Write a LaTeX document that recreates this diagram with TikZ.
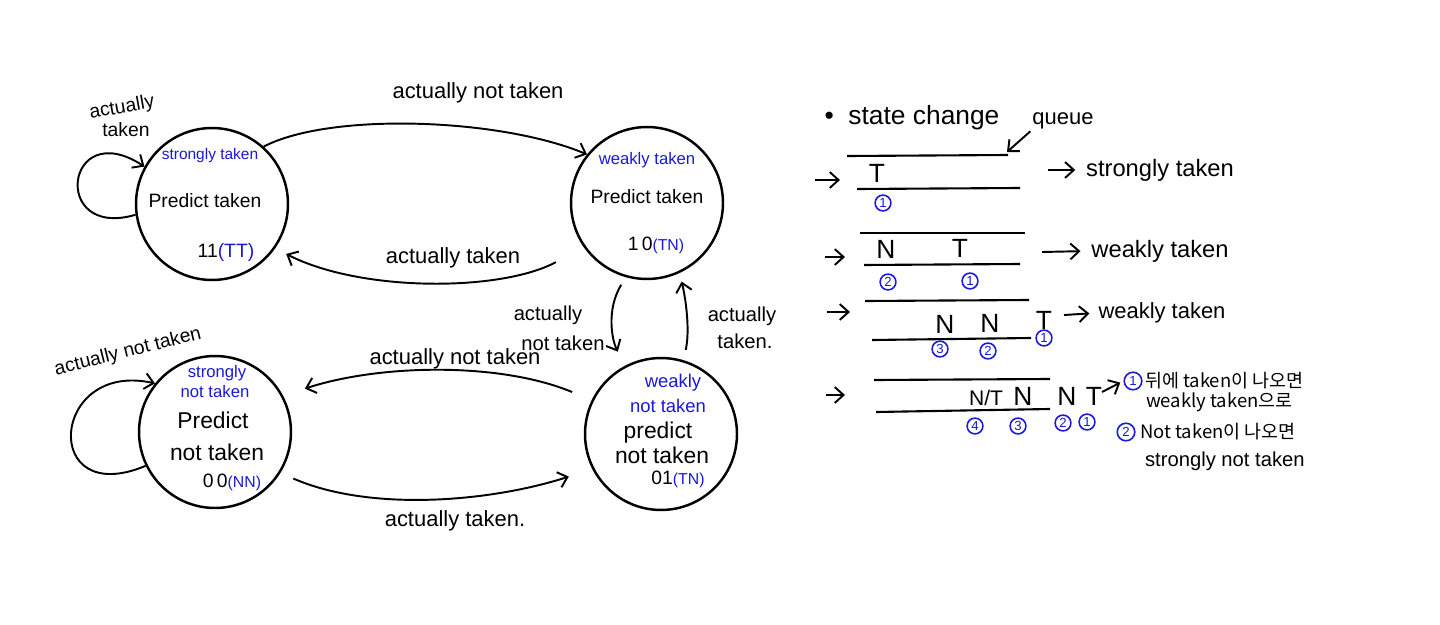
\documentclass[tikz,border=0pt]{standalone}
\usepackage{fontspec}
\setmainfont{Liberation Sans}
\newfontfamily\kfont{Noto Sans CJK KR}
\usetikzlibrary{arrows.meta}
\definecolor{hblue}{RGB}{25,25,215}
\begin{document}
\begin{tikzpicture}[x=0.02cm,y=-0.02cm,
  state/.style={circle, draw, line width=1.4pt, minimum size=3.04cm, inner sep=0pt},
  lbl/.style={font=\fontsize{12.5}{14}\selectfont, inner sep=1pt},
  stx/.style={font=\fontsize{11}{13}\selectfont, inner sep=1pt},
  stbig/.style={font=\fontsize{13}{15}\selectfont, inner sep=1pt},
  sbl/.style={text=hblue, font=\fontsize{9.5}{11}\selectfont, inner sep=1pt},
  arr/.style={-{Straight Barb[length=5pt,width=9pt]}, line width=1.1pt},
  num/.style={circle, draw=hblue, text=hblue, line width=0.9pt, inner sep=0.5pt, minimum size=9pt, font=\fontsize{7.5}{8}\selectfont},
  qline/.style={line width=1.2pt},
  qtxt/.style={font=\fontsize{15}{16}\selectfont, inner sep=0pt},
  rtxt/.style={font=\fontsize{13.5}{15}\selectfont, inner sep=1pt},
  ktxt/.style={font=\kfont\fontsize{10.5}{12}\selectfont, inner sep=1pt}]
\useasboundingbox (0,0) rectangle (1440,625);

% ---------- states ----------
\node[state] (ST)  at (212,204) {};
\node[state] (WT)  at (647,203) {};
\node[state] (SNT) at (215,432) {};
\node[state] (WNT) at (661,434) {};

% texts in states
\node[sbl, font=\fontsize{8.8}{10}\selectfont] (st1) at (210,156) {strongly taken};
\node[stx] (st2) at (205,201) {Predict taken};
\node[stx] (st3) at (226,252) {11\textcolor{hblue}{(TT)}};

\node[sbl] (wt1) at (647,160) {weakly taken};
\node[stx] (wt2) at (647,197) {Predict taken};
\node[stx] (wt3) at (656,245) {1\,0\textcolor{hblue}{\small(TN)}};

\node[sbl] (snt1) at (217,373) {strongly};
\node[sbl] (snt2) at (215,392) {not taken};
\node[stbig] (snt3) at (213,420) {Predict};
\node[stbig] (snt4) at (217,452) {not taken};
\node[stx] (snt5) at (232,482) {0\,0\textcolor{hblue}{\small(NN)}};

\node[sbl, font=\fontsize{10.5}{12}\selectfont] (wnt1) at (673,383) {weakly};
\node[sbl, font=\fontsize{10.5}{12}\selectfont] (wnt2) at (668,406) {not taken};
\node[stbig] (wnt3) at (658,433) {predict};
\node[stbig] (wnt4) at (662,455) {not taken};
\node[stx] (wnt5) at (678,479) {01\textcolor{hblue}{\small(TN)}};

% ---------- transitions ----------
% ST self loop
\draw[arr] (ST.188) .. controls (50,240) and (65,115) .. (ST.151);
\node[lbl, rotate=10, font=\fontsize{11}{12}\selectfont] (l1a) at (122,108) {actually};
\node[lbl, font=\fontsize{11}{12}\selectfont] (l1b) at (126,130) {taken};

% ST -> WT
\draw[arr] (ST.48) .. controls (330,112) and (500,118) .. (WT.141);
\node[lbl] (l2) at (478,93) {actually not taken};

% WT -> ST
\draw[arr, shorten <=18pt, shorten >=7pt] (WT.215) .. controls (500,292) and (360,292) .. (ST.-35);
\node[lbl] (l3) at (453,258) {actually taken};

% WT -> WNT
\draw[arr, shorten <=5pt, shorten >=9pt] (WT.-106) .. controls (606,310) and (612,340) .. (WNT.118);
\node[lbl, font=\fontsize{11.5}{13}\selectfont] (l4a) at (548,315) {actually};
\node[lbl, font=\fontsize{11.5}{13}\selectfont] (l4b) at (563,343) {not taken};

% WNT -> WT
\draw[arr, shorten <=6pt, shorten >=5pt] (WNT.73) .. controls (690,330) and (686,300) .. (WT.-65);
\node[lbl, font=\fontsize{11.5}{13}\selectfont] (l5a) at (742,316) {actually};
\node[lbl, font=\fontsize{11.5}{13}\selectfont] (l5b) at (745,341) {taken.};

% WNT -> SNT
\draw[arr, shorten <=12pt, shorten >=13pt] (WNT.154) .. controls (500,362) and (380,364) .. (SNT.28);
\node[lbl] (l6) at (455,359) {actually not taken};

% SNT -> WNT
\draw[arr, shorten <=8pt, shorten >=14pt] (SNT.-32) .. controls (370,512) and (490,502) .. (WNT.207);
\node[lbl] (l7) at (455,521) {actually taken.};

% SNT self loop
\draw[arr] (SNT.206) .. controls (40,510) and (50,360) .. (SNT.141);
\node[lbl, rotate=14, font=\fontsize{11}{12}\selectfont] (l8) at (128,352) {actually not taken};

% ---------- right side: state change queue ----------
\node[rtxt, font=\fontsize{15}{17}\selectfont] (title) at (912,118) {\textbullet\ \ state change};
\node[rtxt, font=\fontsize{12.5}{14}\selectfont] (queue) at (1063,121) {queue};
\coordinate (qtip) at (1007,152);
\draw[arr] (queue.south west) -- (qtip);

% queue 1
\draw[qline] (847,156) -- (1008,155);
\draw[qline] (857,189) -- (1020,188);
\draw[arr] (815,180) -- (840,180);
\node[qtxt] (q1t) at (877,173) {T};
\node[num] (q1n1) at (883,203) {1};
\node[rtxt] (r1) at (1160,170) {strongly taken};
\draw[arr, shorten >=5pt] (1048,170) -- (r1.west);

% queue 2
\draw[qline] (860,233) -- (1025,233);
\draw[qline] (864,265) -- (1020,264);
\draw[arr] (825,257) -- (845,257);
\node[qtxt] (q2n) at (886,249) {N};
\node[qtxt] (q2t) at (960,248) {T};
\node[num] (q2c2) at (888,282) {2};
\node[num] (q2c1) at (970,281) {1};
\node[rtxt] (r2) at (1160,251) {weakly taken};
\draw[arr, shorten >=5pt] (1042,252) -- (r2.west);

% queue 3
\draw[qline] (865,301) -- (1029,300);
\draw[qline] (872,340) -- (1031,338);
\draw[arr] (827,312) -- (850,312);
\node[qtxt] (q3n1) at (945,324) {N};
\node[qtxt] (q3n2) at (990,323) {N};
\node[qtxt] (q3t) at (1044,320) {T};
\node[num] (q3c3) at (940,349) {3};
\node[num] (q3c2) at (988,351) {2};
\node[num] (q3c1) at (1044,338) {1};
\node[rtxt, font=\fontsize{12.5}{14}\selectfont] (r3) at (1162,313) {weakly taken};
\draw[arr, shorten >=4pt] (1064,315) -- (r3.west);

% queue 4
\draw[qline] (874,380) -- (1050,379);
\draw[qline] (876,412) -- (1050,409);
\draw[arr] (826,395) -- (845,395);
\node[qtxt, font=\fontsize{12}{13}\selectfont] (q4nt) at (986,398) {N/T};
\node[qtxt] (q4n1) at (1023,396) {N};
\node[qtxt] (q4n2) at (1067,396) {N};
\node[qtxt] (q4t) at (1094,396) {T};
\node[num] (q4c4) at (975,426) {4};
\node[num] (q4c3) at (1018,426) {3};
\node[num] (q4c2) at (1063,423) {2};
\node[num] (q4c1) at (1087,422) {1};
\node[num, minimum size=10pt] (k1) at (1133,381) {1};
\draw[arr, shorten >=2pt] (1102,392) -- (k1.west);
\node[ktxt, anchor=west] (k1a) at (1143,381) {뒤에 taken이 나오면};
\node[ktxt, anchor=west] (k1b) at (1144,402) {weakly taken으로};
\node[num, minimum size=10pt] (k2) at (1126,432) {2};
\node[ktxt, anchor=west] (k2a) at (1138,432) {Not taken이 나오면};
\node[rtxt, anchor=west, font=\fontsize{11.5}{13}\selectfont] (k2b) at (1143,461) {strongly not taken};
\end{tikzpicture}
\end{document}
